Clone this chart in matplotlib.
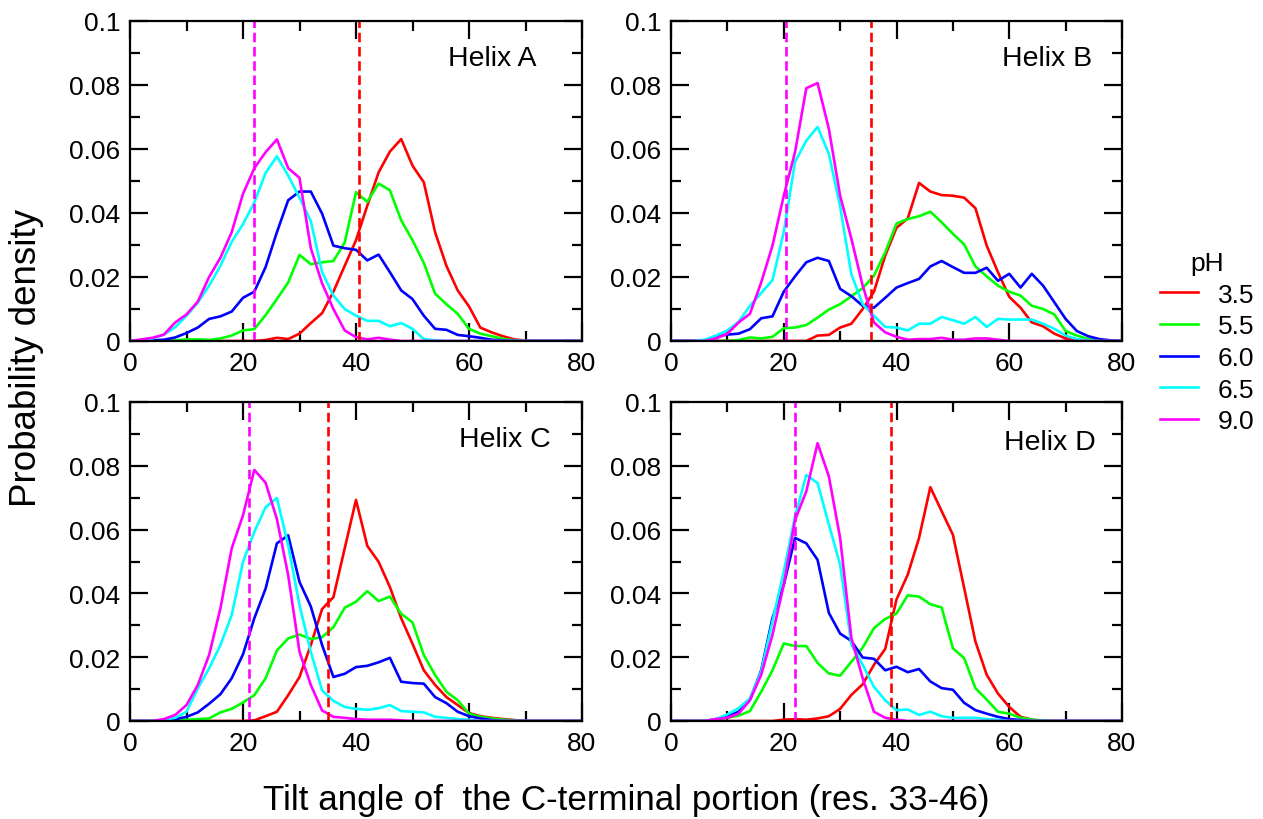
#!/usr/bin/env python3
"""
Tilt angle distributions of the C-terminal portion (res. 33-46), four helices, five pH values.
"""

import matplotlib
matplotlib.use('Agg')
import matplotlib.pyplot as plt
from matplotlib.ticker import MultipleLocator, FixedLocator, FixedFormatter

plt.rcParams['font.family'] = ['Liberation Sans', 'DejaVu Sans']

# Bin centres (degrees)
angles = list(range(0, 81, 2))

ph_labels = ['3.5', '5.5', '6.0', '6.5', '9.0']
ph_colors = ['#ff0000', '#00ff00', '#0000ff', '#00ffff', '#ff00ff']

# Helix A
A_ph35 = [0, 0, 0, 0, 0, 0, 0, 0, 0, 0, 0, 0, 0.0003, 0.001, 0.0006, 0.0023, 0.0056, 0.0087, 0.0154,
          0.0235, 0.0315, 0.0423, 0.0527, 0.0592, 0.0631, 0.0548, 0.0496, 0.034, 0.0235, 0.0158,
          0.0108, 0.0042, 0.0027, 0.0015, 0.0005, 0.0001, 0, 0, 0, 0, 0]
A_ph55 = [0, 0, 0, 0, 0.0002, 0.0005, 0.0005, 0.0003, 0.0008, 0.0017, 0.0033, 0.0037, 0.0081, 0.0131,
          0.0183, 0.0269, 0.024, 0.0246, 0.025, 0.0308, 0.0465, 0.0435, 0.0492, 0.0471, 0.0377,
          0.0315, 0.0244, 0.0148, 0.0115, 0.0085, 0.0038, 0.0023, 0.0015, 0.0007, 0.0002,
          0, 0, 0, 0, 0, 0]
A_ph60 = [0, 0, 0.0002, 0.0004, 0.0011, 0.0025, 0.0042, 0.0069, 0.0077, 0.0092, 0.0135, 0.0154,
          0.0231, 0.034, 0.044, 0.0467, 0.0467, 0.0398, 0.0298, 0.029, 0.0285, 0.0252, 0.027,
          0.0215, 0.0158, 0.0131, 0.0079, 0.0038, 0.0035, 0.0019, 0.0015, 0.001, 0.0004, 0.0002,
          0, 0, 0, 0, 0, 0, 0]
A_ph65 = [0, 0.0003, 0.0008, 0.002, 0.0043, 0.0079, 0.012, 0.0173, 0.0235, 0.031, 0.0365, 0.0433,
          0.0525, 0.0577, 0.0517, 0.0448, 0.0375, 0.0215, 0.0142, 0.010, 0.0079, 0.0063, 0.0063,
          0.0046, 0.0056, 0.0038, 0.0006, 0.0002, 0, 0, 0, 0, 0, 0, 0, 0, 0, 0, 0, 0, 0]
A_ph90 = [0, 0.0005, 0.001, 0.002, 0.0058, 0.0083, 0.0123, 0.020, 0.026, 0.034, 0.046, 0.054, 0.059,
          0.063, 0.054, 0.051, 0.029, 0.018, 0.010, 0.0033, 0.0012, 0.0005, 0.001, 0.0004,
          0, 0, 0, 0, 0, 0, 0, 0, 0, 0, 0, 0, 0, 0, 0, 0, 0]

# Helix B
B_ph35 = [0, 0, 0, 0, 0, 0, 0, 0, 0, 0, 0, 0, 0, 0.0017, 0.0019, 0.0042, 0.0054, 0.010, 0.0154,
          0.0267, 0.0354, 0.0383, 0.0494, 0.0467, 0.0456, 0.0454, 0.0448, 0.0415, 0.0298, 0.0215,
          0.0138, 0.0104, 0.0058, 0.0046, 0.0023, 0.0008, 0.0003, 0, 0, 0, 0]
B_ph55 = [0, 0, 0, 0, 0, 0, 0.0003, 0.0011, 0.0008, 0.0013, 0.004, 0.0042, 0.005, 0.0073, 0.0098,
          0.0115, 0.014, 0.0165, 0.0204, 0.0277, 0.0367, 0.0381, 0.039, 0.0404, 0.0371, 0.0335,
          0.0302, 0.0233, 0.0202, 0.0173, 0.0154, 0.0142, 0.011, 0.010, 0.0083, 0.0031, 0.0017,
          0.0006, 0.0002, 0, 0]
B_ph60 = [0, 0, 0, 0.0002, 0.0015, 0.002, 0.0023, 0.0037, 0.0071, 0.0077, 0.0154, 0.0202, 0.0246,
          0.026, 0.025, 0.0163, 0.014, 0.011, 0.0104, 0.0135, 0.0167, 0.0181, 0.0194, 0.0233, 0.025,
          0.0231, 0.0213, 0.0213, 0.0229, 0.0188, 0.021, 0.0167, 0.021, 0.0173, 0.0121, 0.0069,
          0.0031, 0.0015, 0.0006, 0.0002, 0]
B_ph65 = [0, 0, 0, 0.0004, 0.0017, 0.0033, 0.006, 0.011, 0.015, 0.019, 0.034, 0.056, 0.0626, 0.0669,
          0.0585, 0.042, 0.0208, 0.0115, 0.0079, 0.0044, 0.0042, 0.0033, 0.0054, 0.0054, 0.0075,
          0.0065, 0.0054, 0.0075, 0.0044, 0.0069, 0.0067, 0.0067, 0.0067, 0.0054, 0.0038, 0.0017,
          0.0006, 0.0002, 0, 0, 0]
B_ph90 = [0, 0, 0, 0, 0.0008, 0.0023, 0.0058, 0.0085, 0.0183, 0.0298, 0.0454, 0.059, 0.079, 0.0806,
          0.0663, 0.0454, 0.0319, 0.0173, 0.0058, 0.0027, 0.0013, 0.0004, 0.0006, 0.0006, 0.001,
          0.0004, 0.0004, 0.0008, 0.0008, 0.0004, 0, 0, 0, 0, 0, 0, 0, 0, 0, 0, 0]

# Helix C
C_ph35 = [0, 0, 0, 0, 0, 0, 0, 0, 0, 0, 0, 0.0002, 0.0015, 0.0029, 0.0081, 0.0138, 0.0238, 0.0351,
          0.0388, 0.0541, 0.0693, 0.0549, 0.0499, 0.042, 0.0322, 0.0242, 0.0159, 0.0113, 0.0075,
          0.005, 0.0025, 0.0015, 0.001, 0.0006, 0.0003, 0, 0, 0, 0, 0, 0]
C_ph55 = [0, 0, 0, 0, 0.0002, 0.0004, 0.0006, 0.0008, 0.0027, 0.0038, 0.0058, 0.0081, 0.0134,
          0.0221, 0.0259, 0.0271, 0.0257, 0.0263, 0.0294, 0.0355, 0.0374, 0.0407, 0.0376, 0.039,
          0.0336, 0.0309, 0.0207, 0.0144, 0.0092, 0.0065, 0.0023, 0.0013, 0.0008, 0.0004, 0.0002,
          0, 0, 0, 0, 0, 0]
C_ph60 = [0, 0, 0, 0.0002, 0.0006, 0.0013, 0.0027, 0.0054, 0.0084, 0.0134, 0.0209, 0.0322, 0.0415,
          0.0557, 0.0582, 0.0436, 0.0359, 0.0238, 0.0138, 0.0148, 0.0169, 0.0173, 0.0184, 0.0198,
          0.0123, 0.0119, 0.0117, 0.0075, 0.0056, 0.0029, 0.0015, 0.0008, 0.0003,
          0, 0, 0, 0, 0, 0, 0, 0]
C_ph65 = [0, 0, 0, 0.0004, 0.001, 0.0029, 0.0102, 0.0165, 0.0238, 0.0332, 0.0499, 0.0593, 0.067,
          0.0699, 0.0551, 0.0363, 0.0217, 0.0096, 0.0063, 0.0044, 0.0038, 0.0035, 0.004, 0.005,
          0.0031, 0.0029, 0.0027, 0.0013, 0.001, 0.0006, 0.0004, 0, 0, 0, 0, 0, 0, 0, 0, 0, 0]
C_ph90 = [0, 0, 0, 0.0006, 0.0019, 0.005, 0.0113, 0.0207, 0.0353, 0.0541, 0.0645, 0.0787, 0.0747,
          0.0633, 0.0457, 0.0217, 0.0113, 0.0033, 0.0013, 0.001, 0.0006, 0.0004, 0.0004, 0.0004,
          0.0002, 0, 0, 0, 0, 0, 0, 0, 0, 0, 0, 0, 0, 0, 0, 0, 0]

# Helix D
D_ph35 = [0, 0, 0, 0, 0, 0, 0, 0, 0, 0, 0.0004, 0.0006, 0.0004, 0.0008, 0.0015, 0.0038, 0.0082,
          0.0115, 0.0176, 0.0226, 0.0381, 0.0459, 0.0574, 0.0733, 0.0658, 0.0584, 0.0417, 0.0249,
          0.0145, 0.0086, 0.0044, 0.0013, 0.0004, 0, 0, 0, 0, 0, 0, 0, 0]
D_ph55 = [0, 0, 0, 0, 0.0004, 0.001, 0.0017, 0.0031, 0.0092, 0.0159, 0.0243, 0.0235, 0.0235,
          0.0182, 0.0149, 0.0142, 0.0186, 0.023, 0.0291, 0.032, 0.0337, 0.0394, 0.039, 0.0366,
          0.0356, 0.0228, 0.0197, 0.0103, 0.0067, 0.0029, 0.0023, 0.001, 0.0004, 0.0002,
          0, 0, 0, 0, 0, 0, 0]
D_ph60 = [0, 0, 0, 0, 0.0006, 0.0015, 0.0029, 0.0067, 0.0159, 0.0323, 0.0427, 0.0574, 0.0557,
          0.0505, 0.0339, 0.0274, 0.0251, 0.0199, 0.0195, 0.0159, 0.017, 0.0153, 0.0163, 0.0124,
          0.0103, 0.0098, 0.0057, 0.0034, 0.0023, 0.0013, 0.0006, 0.0003,
          0, 0, 0, 0, 0, 0, 0, 0, 0]
D_ph65 = [0, 0, 0, 0, 0.0006, 0.0021, 0.004, 0.0071, 0.0155, 0.0312, 0.0469, 0.0641, 0.0771,
          0.0746, 0.0616, 0.049, 0.0239, 0.0176, 0.0107, 0.0065, 0.0034, 0.0036, 0.0019, 0.0029,
          0.0015, 0.001, 0.001, 0.001, 0.0006, 0.0004, 0, 0, 0, 0, 0, 0, 0, 0, 0, 0, 0]
D_ph90 = [0, 0, 0, 0, 0.0006, 0.001, 0.0023, 0.0065, 0.0145, 0.027, 0.0427, 0.063, 0.072, 0.0871,
          0.0767, 0.0574, 0.026, 0.0134, 0.0029, 0.001, 0.0004, 0, 0, 0, 0, 0, 0, 0, 0, 0, 0,
          0, 0, 0, 0, 0, 0, 0, 0, 0, 0]

# Mean tilt at pH 9.0 (magenta) and pH 3.5 (red), dashed markers
mean_ph90 = [21.9, 20.4, 21.0, 22.0]
mean_ph35 = [40.6, 35.5, 35.0, 39.1]

helix_names = ['Helix A', 'Helix B', 'Helix C', 'Helix D']
helix_series = [
    [A_ph35, A_ph55, A_ph60, A_ph65, A_ph90],
    [B_ph35, B_ph55, B_ph60, B_ph65, B_ph90],
    [C_ph35, C_ph55, C_ph60, C_ph65, C_ph90],
    [D_ph35, D_ph55, D_ph60, D_ph65, D_ph90],
]

W, H = 1263, 820
fig = plt.figure(figsize=(W / 100, H / 100), dpi=100)

# Panel boxes in pixels: (left, top, right, bottom)
boxes = [(130, 22, 582, 342), (671, 22, 1122, 342),
         (130, 403, 582, 722), (671, 403, 1122, 722)]
label_pos = [(0.703, 0.884), (0.734, 0.884), (0.728, 0.884), (0.738, 0.875)]

lw = 1.9
fs = 19
handles = []
for i, (l, t, r, b) in enumerate(boxes):
    ax = fig.add_axes([l / W, 1 - b / H, (r - l) / W, (b - t) / H])
    for vals, col, lab in zip(helix_series[i], ph_colors, ph_labels):
        line, = ax.plot(angles, vals, color=col, lw=lw, label=lab)
        if i == 0:
            handles.append(line)
    ax.axvline(mean_ph90[i], color='#ff00ff', lw=lw, dashes=(3.6, 1.8))
    ax.axvline(mean_ph35[i], color='#ff0000', lw=lw, dashes=(3.6, 1.8))

    ax.set_xlim(0, 80)
    ax.set_ylim(0, 0.1)
    ax.xaxis.set_major_locator(MultipleLocator(20))
    ax.xaxis.set_minor_locator(MultipleLocator(10))
    yt = [0, 0.02, 0.04, 0.06, 0.08, 0.1]
    ax.yaxis.set_major_locator(FixedLocator(yt))
    ax.yaxis.set_major_formatter(FixedFormatter(['0', '0.02', '0.04', '0.06', '0.08', '0.1']))
    ax.yaxis.set_minor_locator(MultipleLocator(0.01))
    ax.tick_params(which='both', direction='in', top=True, right=True, width=1.6,
                   labelsize=fs)
    ax.tick_params(which='major', length=13, pad=7)
    ax.tick_params(which='minor', length=7)
    for sp in ax.spines.values():
        sp.set_linewidth(1.6)
    ax.text(label_pos[i][0], label_pos[i][1], helix_names[i], transform=ax.transAxes,
            fontsize=20.5, ha='left', va='center')

fig.text(626 / W, 1 - 801 / H, 'Tilt angle of  the C-terminal portion (res. 33-46)',
         fontsize=25.2, ha='center', va='center')
fig.text(27 / W, 1 - 358 / H, 'Probability density', fontsize=26.5, rotation=90,
         ha='center', va='center')

leg = fig.legend(handles=handles, labels=ph_labels, title='pH', loc='upper left',
                 bbox_to_anchor=(1160 / W, 1 - 252 / H), frameon=False, fontsize=fs,
                 title_fontsize=fs, handlelength=1.45, handletextpad=0.75,
                 labelspacing=0.29, borderpad=0, borderaxespad=0)

fig.savefig('out.png', dpi=100)
